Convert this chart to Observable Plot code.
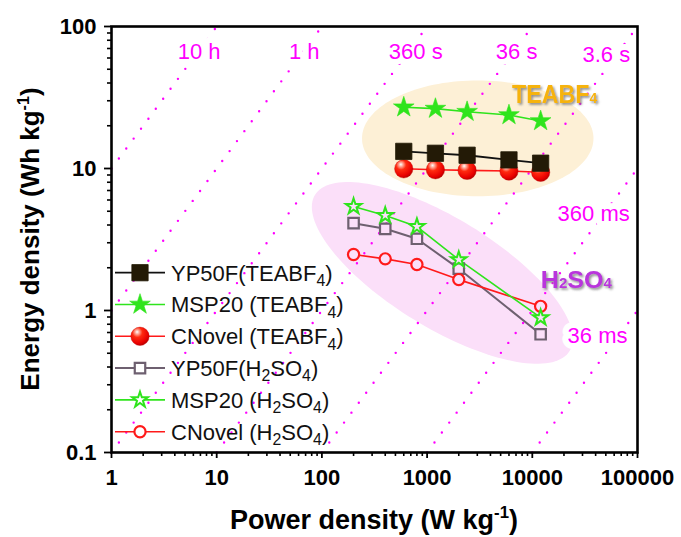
<!DOCTYPE html>
<html>
<head>
<meta charset="utf-8">
<script src="https://cdn.jsdelivr.net/npm/d3@7"></script>
<script src="https://cdn.jsdelivr.net/npm/@observablehq/plot@0.6"></script>
<style>
  html, body { margin: 0; padding: 0; background: #fff; }
  #chart { width: 681px; height: 537px; }
</style>
</head>
<body>
<div id="chart"></div>
<script>
// ---- Data -------------------------------------------------------------
// Power density (W/kg) of each rate step
const powerTEABF4 = [600, 1200, 2400, 6000, 12000];
const powerH2SO4 = [200, 400, 800, 2000, 12000];

// Energy density (Wh/kg)
const yp50fTEABF4 = [13.2, 12.8, 12.4, 11.5, 10.9];
const msp20TEABF4 = [27.0, 26.4, 25.1, 23.8, 21.6];
const cnovelTEABF4 = [9.95, 9.8, 9.7, 9.6, 9.4];
const yp50fH2SO4 = [4.12, 3.76, 3.20, 1.97, 0.68];
const msp20H2SO4 = [5.40, 4.67, 3.90, 2.28, 0.89];
const cnovelH2SO4 = [2.48, 2.31, 2.11, 1.65, 1.07];

// Series names ("_x" marks a subscript)
const seriesNames = [
  "YP50F(TEABF_4)", "MSP20 (TEABF_4)", "CNovel (TEABF_4)",
  "YP50F(H_2SO_4)", "MSP20 (H_2SO_4)", "CNovel (H_2SO_4)"
];

// Constant discharge-time guide lines, E = P * t (t in hours)
const timeHours = [10, 1, 0.1, 0.01, 0.001, 0.0001, 0.00001];
const timeLabels = ["10 h", "1 h", "360 s", "36 s", "3.6 s", "360 ms", "36 ms"];
const timeLabelP = [6.8, 68, 780, 7100, 50500, 38300, 41700];
const timeLabelE = [66, 66, 66, 66, 63, 4.8, 0.66];

// Electrolyte group labels
const groupTexts = ["TEABF_4", "H_2SO_4"];
const groupP = [6500, 12200];
const groupE = [28.7, 1.43];

// Group highlight ellipses in log-space: centre and two conjugate
// semi-axes measured in decades (log10 P, log10 E)
const ellipseCenters = [[3030, 16.3], [1396, 1.84]];
const ellipseAxisU = [[1.10, 0], [1.211, -0.549]];
const ellipseAxisV = [[0, 0.408], [-0.270, -0.329]];

// Axis ticks
const majorX = [1, 10, 100, 1000, 10000, 100000];
const majorY = [0.1, 1, 10, 100];

// ---- Derived tables ---------------------------------------------------
const seriesValues = [yp50fTEABF4, msp20TEABF4, cnovelTEABF4, yp50fH2SO4, msp20H2SO4, cnovelH2SO4];
const seriesPower = [powerTEABF4, powerTEABF4, powerTEABF4, powerH2SO4, powerH2SO4, powerH2SO4];
const rows = seriesNames.flatMap((name, i) =>
  seriesValues[i].map((E, j) => ({series: name, P: seriesPower[i][j], E})));
const bySeries = name => rows.filter(d => d.series === name);

const minors = (decades) => decades.flatMap(d => d3.range(2, 10).map(k => k * d));
const minorX = minors([1, 10, 100, 1000, 10000]);
const minorY = minors([0.1, 1, 10]);

const timeLines = timeHours.map(t => ({
  P1: Math.max(1, 0.1 / t), E1: Math.max(1, 0.1 / t) * t,
  P2: Math.min(1e5, 100 / t), E2: Math.min(1e5, 100 / t) * t
}));
const timeLabelRows = timeLabels.map((text, i) => ({text, P: timeLabelP[i], E: timeLabelE[i]}));

function ellipsePoints(k) {
  const [cP, cE] = ellipseCenters[k], u = ellipseAxisU[k], v = ellipseAxisV[k];
  return d3.range(0, 145).map(i => {
    const a = (i / 144) * 2 * Math.PI;
    return {
      P: Math.pow(10, Math.log10(cP) + u[0] * Math.cos(a) + v[0] * Math.sin(a)),
      E: Math.pow(10, Math.log10(cE) + u[1] * Math.cos(a) + v[1] * Math.sin(a))
    };
  });
}

// ---- Styles -----------------------------------------------------------
const FONT = "'Liberation Sans', Arial, Helvetica, sans-serif";
const MAGENTA = "#ff00ff";
const GREEN = "#2fe41c";
const RED = "#ff1a1a";
const GREY = "#6e6070";
const PINK = "#fbdff9";
const CREAM = "#fdf0d6";

// Marker style per series, shared by the plot and the legend
const markerStyles = [
  {symbol: "square", r: 9.2, fill: "#231a06", stroke: "#231a06", strokeWidth: 0.8, line: "#111", lineWidth: 1.8},
  {symbol: "star", r: 6.5, fill: GREEN, stroke: GREEN, strokeWidth: 0.6, line: GREEN, lineWidth: 1.6},
  {symbol: "circle", r: 9.2, fill: "url(#sphere)", stroke: "#c40000", strokeWidth: 0.4, line: RED, lineWidth: 1.6},
  {symbol: "square", r: 5.9, fill: PINK, stroke: GREY, strokeWidth: 2.2, line: GREY, lineWidth: 2},
  {symbol: "star", r: 4.9, fill: PINK, stroke: GREEN, strokeWidth: 2, line: GREEN, lineWidth: 1.6},
  {symbol: "circle", r: 5.6, fill: PINK, stroke: RED, strokeWidth: 2.2, line: RED, lineWidth: 1.6}
];
const d3Symbols = {square: d3.symbolSquare, star: d3.symbolStar, circle: d3.symbolCircle};

// Writes a string with _x subscripts and ^{..} superscripts into a text node
function addRich(text, str, size, subShift = 0.25, subScale = 0.72) {
  let shift = 0;
  str.split(/(_\w|\^\{[^}]*\})/).forEach(p => {
    if (!p) return;
    let target = 0, fs = size, t = p;
    if (p.startsWith("_")) { target = size * subShift; fs = size * subScale; t = p.slice(1); }
    else if (p.startsWith("^{")) { target = -size * 0.4; fs = size * 0.62; t = p.slice(2, -1); }
    text.append("tspan").attr("dy", target - shift).attr("font-size", fs).text(t);
    shift = target;
  });
}

// ---- Custom render marks ---------------------------------------------
function defsMark() {
  const defs = d3.create("svg:defs");
  const g = defs.append("radialGradient").attr("id", "sphere")
    .attr("cx", "0.38").attr("cy", "0.32").attr("r", "0.72").attr("fx", "0.34").attr("fy", "0.26");
  [[0, "#ffffff"], [0.14, "#ffb0a0"], [0.38, "#ff2a10"], [0.8, "#e80000"], [1, "#b00000"]]
    .forEach(([o, c]) => g.append("stop").attr("offset", o).attr("stop-color", c));
  const f = defs.append("filter").attr("id", "soft-shadow")
    .attr("x", "-20%").attr("y", "-20%").attr("width", "140%").attr("height", "150%");
  f.append("feDropShadow").attr("dx", 1.6).attr("dy", 1.8).attr("stdDeviation", 1)
    .attr("flood-color", "#6d6d6d").attr("flood-opacity", 0.75);
  return defs.node();
}

function groupLabelMark(index, scales) {
  const g = d3.create("svg:g").attr("font-family", FONT).attr("font-weight", "bold")
    .attr("text-anchor", "start").attr("filter", "url(#soft-shadow)");
  const styles = [{size: 25, color: "#f6b30d", len: 85}, {size: 23, color: "#b934dc", len: 71}];
  groupTexts.forEach((str, i) => {
    const t = g.append("text")
      .attr("x", scales.x(groupP[i])).attr("y", scales.y(groupE[i]))
      .attr("fill", styles[i].color)
      .attr("textLength", styles[i].len).attr("lengthAdjust", "spacingAndGlyphs");
    addRich(t, str, styles[i].size, 0.02, 0.6);
  });
  return g.node();
}

function legendMark(index, scales, values, dims) {
  const g = d3.create("svg:g").attr("font-family", FONT).attr("text-anchor", "start");
  const x0 = dims.marginLeft + 4, top = 272.7, step = 31.8;
  seriesNames.forEach((name, i) => {
    const s = markerStyles[i], cy = top + i * step;
    g.append("line").attr("x1", x0).attr("x2", x0 + 50).attr("y1", cy).attr("y2", cy)
      .attr("stroke", s.line).attr("stroke-width", s.lineWidth);
    g.append("path")
      .attr("transform", `translate(${x0 + 25},${cy})`)
      .attr("d", d3.symbol(d3Symbols[s.symbol], Math.PI * s.r * s.r)())
      .attr("fill", s.fill === PINK ? "#fff" : s.fill)
      .attr("stroke", s.stroke).attr("stroke-width", s.strokeWidth);
    const t = g.append("text").attr("x", x0 + 56).attr("y", cy + 7.8)
      .attr("fill", "#111");
    addRich(t, name, 22);
  });
  return g.node();
}

function titlesMark(index, scales, values, dims) {
  const g = d3.create("svg:g").attr("font-family", FONT).attr("font-weight", "bold").attr("fill", "#000");
  const cx = (dims.marginLeft + dims.width - dims.marginRight) / 2;
  const cy = (dims.marginTop + dims.height - dims.marginBottom) / 2;
  const xt = g.append("text").attr("x", cx).attr("y", dims.height - 8).attr("text-anchor", "middle");
  addRich(xt, "Power density (W kg^{-1})", 27);
  const yt = g.append("text").attr("text-anchor", "middle")
    .attr("transform", `translate(39,${cy}) rotate(-90)`);
  addRich(yt, "Energy density (Wh kg^{-1})", 26);
  return g.node();
}

// ---- Chart ------------------------------------------------------------
const seriesDots = seriesNames.map((name, i) => {
  const s = markerStyles[i];
  return Plot.dot(bySeries(name), {
    x: "P", y: "E", symbol: s.symbol, r: s.r,
    fill: s.fill, stroke: s.stroke, strokeWidth: s.strokeWidth
  });
});
const seriesLines = seriesNames.map((name, i) => {
  const s = markerStyles[i];
  return Plot.line(bySeries(name), {x: "P", y: "E", stroke: s.line, strokeWidth: s.lineWidth});
});

const chart = Plot.plot({
  width: 681,
  height: 537,
  marginLeft: 111,
  marginRight: 44,
  marginTop: 26,
  marginBottom: 85,
  style: {fontFamily: FONT, background: "#fff", color: "#000", overflow: "visible"},
  x: {type: "log", domain: [1, 1e5], nice: false, label: null},
  y: {type: "log", domain: [0.1, 100], nice: false, label: null},
  marks: [
    defsMark,
    // group highlight ellipses
    Plot.line(ellipsePoints(0), {x: "P", y: "E", curve: "linear-closed", fill: CREAM, stroke: "none"}),
    Plot.line(ellipsePoints(1), {x: "P", y: "E", curve: "linear-closed", fill: PINK, stroke: "none"}),
    // constant-time guide lines
    Plot.link(timeLines, {
      x1: "P1", y1: "E1", x2: "P2", y2: "E2",
      stroke: MAGENTA, strokeWidth: 2.4, strokeDasharray: "0 12.4", strokeLinecap: "round"
    }),
    Plot.text(timeLabelRows, {
      x: "P", y: "E", text: "text", fill: MAGENTA, fontSize: 22,
      stroke: "white", strokeWidth: 12, paintOrder: "stroke", strokeLinejoin: "round"
    }),
    // data: H2SO4 then TEABF4, in stacking order
    seriesLines[3], seriesLines[5], seriesLines[4],
    seriesDots[3], seriesDots[5], seriesDots[4],
    seriesLines[0], seriesLines[1], seriesLines[2],
    seriesDots[2], seriesDots[0], seriesDots[1],
    groupLabelMark,
    legendMark,
    // axes
    Plot.axisX(minorX, {anchor: "bottom", tickSize: 4, strokeWidth: 1.6, tickFormat: () => "", label: null}),
    Plot.axisX(majorX, {
      anchor: "bottom", tickSize: 6, tickPadding: 11, strokeWidth: 1.8,
      tickFormat: d => String(d), fontSize: 22, fontWeight: "bold", label: null
    }),
    Plot.axisY(minorY, {anchor: "left", tickSize: 4, strokeWidth: 1.6, tickFormat: () => "", label: null}),
    Plot.axisY(majorY, {
      anchor: "left", tickSize: 7, tickPadding: 8, strokeWidth: 1.8,
      tickFormat: d => String(d), fontSize: 22, fontWeight: "bold", label: null
    }),
    Plot.frame({stroke: "#000", strokeWidth: 2.6}),
    titlesMark
  ]
});

document.getElementById("chart").appendChild(chart);
</script>
</body>
</html>
